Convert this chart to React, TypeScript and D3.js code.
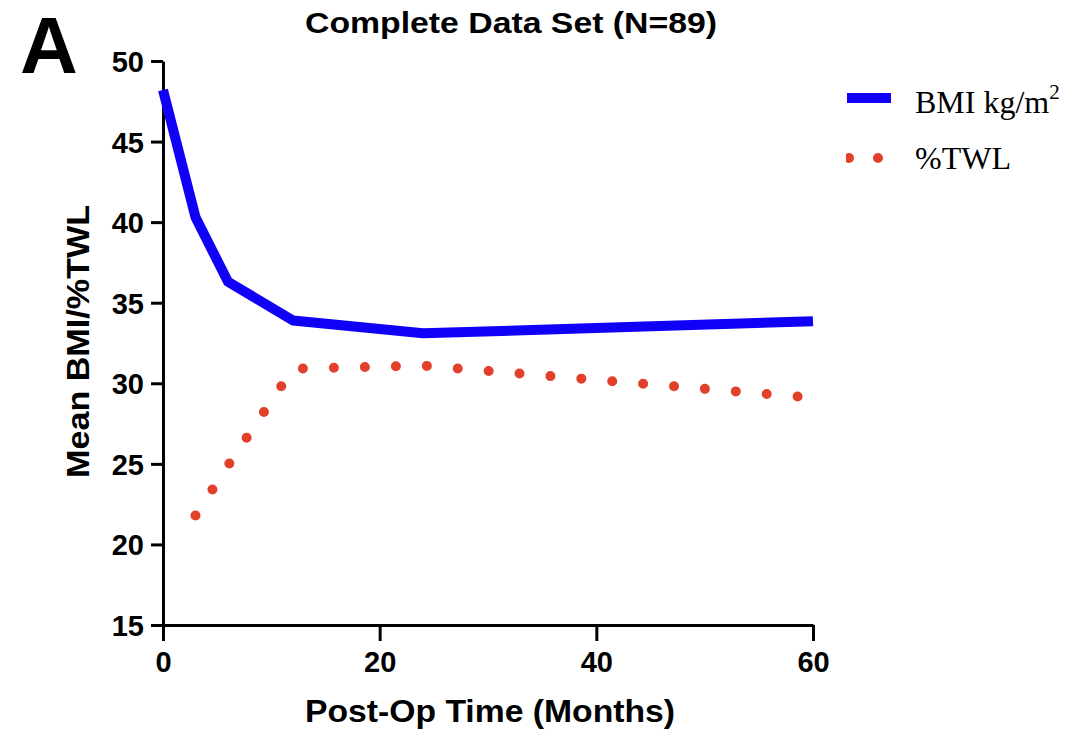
import React, { useEffect, useRef } from 'react';
import * as d3 from 'd3';

// values
const bmiMonths = [0, 3, 6, 12, 24, 60];
const bmiValues = [48.2, 40.3, 36.3, 33.9, 33.1, 33.85];
const twlMonths = [3, 6, 12, 24, 60];
const twlValues = [21.8, 24.9, 30.9, 31.1, 29.1];
const xTicks = [0, 20, 40, 60];
const yTicks = [15, 20, 25, 30, 35, 40, 45, 50];
const seriesLabels = ['BMI kg/m', '%TWL'];

const BLUE = '#1000f8';
const RED = '#e2402a';
const SANS = '"Liberation Sans", Arial, sans-serif';
const SERIF = '"Liberation Serif", "Times New Roman", serif';

const App = () => {
  const chartRef = useRef<SVGSVGElement>(null);

  useEffect(() => {
    const svg = d3.select(chartRef.current);
    svg.selectAll('*').remove();

    const x = d3.scaleLinear().domain([0, 60]).range([163, 813]);
    const y = d3.scaleLinear().domain([15, 50]).range([625, 61]);

    // Axes
    const yAxis = svg
      .append('g')
      .attr('transform', `translate(${x(0)},0)`)
      .call(d3.axisLeft(y).tickValues(yTicks).tickSize(12).tickSizeOuter(0).tickPadding(7));

    const xAxis = svg
      .append('g')
      .attr('transform', `translate(0,${y(15)})`)
      .call(d3.axisBottom(x).tickValues(xTicks).tickSize(16).tickSizeOuter(0).tickPadding(10));

    [yAxis, xAxis].forEach((g) => {
      g.attr('font-family', SANS).attr('font-size', 29).attr('font-weight', 'bold');
      g.selectAll('path, line').attr('stroke', '#000').attr('stroke-width', 3);
      g.selectAll('text').attr('fill', '#000');
    });
    yAxis.selectAll('text').attr('dy', '0.36em');

    // BMI line
    const bmiLine = d3
      .line<number>()
      .x((d, i) => x(bmiMonths[i]))
      .y((d) => y(d));

    svg
      .append('path')
      .datum(bmiValues)
      .attr('fill', 'none')
      .attr('stroke', BLUE)
      .attr('stroke-width', 10)
      .attr('stroke-linejoin', 'round')
      .attr('d', bmiLine);

    // %TWL dotted line
    const twlLine = d3
      .line<number>()
      .x((d, i) => x(twlMonths[i]))
      .y((d) => y(d));

    svg
      .append('path')
      .datum(twlValues)
      .attr('fill', 'none')
      .attr('stroke', RED)
      .attr('stroke-width', 10)
      .attr('stroke-linecap', 'round')
      .attr('stroke-dasharray', '0 31')
      .attr('d', twlLine);

    // Title and panel letter
    svg
      .append('text')
      .attr('x', 511)
      .attr('y', 33)
      .attr('text-anchor', 'middle')
      .attr('font-family', SANS)
      .attr('font-weight', 'bold')
      .attr('font-size', 29)
      .attr('textLength', 412)
      .attr('lengthAdjust', 'spacingAndGlyphs')
      .text('Complete Data Set (N=89)');

    svg
      .append('text')
      .attr('x', 20)
      .attr('y', 73)
      .attr('font-family', SANS)
      .attr('font-weight', 'bold')
      .attr('font-size', 80)
      .text('A');

    // Axis titles
    svg
      .append('text')
      .attr('x', 490)
      .attr('y', 722)
      .attr('text-anchor', 'middle')
      .attr('font-family', SANS)
      .attr('font-weight', 'bold')
      .attr('font-size', 31)
      .attr('textLength', 370)
      .attr('lengthAdjust', 'spacingAndGlyphs')
      .text('Post-Op Time (Months)');

    svg
      .append('text')
      .attr('transform', `translate(89,${(205 + 478) / 2}) rotate(-90)`)
      .attr('text-anchor', 'middle')
      .attr('font-family', SANS)
      .attr('font-weight', 'bold')
      .attr('font-size', 31)
      .attr('textLength', 273)
      .attr('lengthAdjust', 'spacingAndGlyphs')
      .text('Mean BMI/%TWL');

    // Legend
    const legend = svg.append('g');
    legend
      .append('line')
      .attr('x1', 847)
      .attr('x2', 891)
      .attr('y1', 98)
      .attr('y2', 98)
      .attr('stroke', BLUE)
      .attr('stroke-width', 10);

    legend
      .append('clipPath')
      .attr('id', 'legend-clip')
      .append('rect')
      .attr('x', 846)
      .attr('y', 140)
      .attr('width', 50)
      .attr('height', 40);

    legend
      .append('line')
      .attr('x1', 849)
      .attr('x2', 884)
      .attr('y1', 158)
      .attr('y2', 158)
      .attr('clip-path', 'url(#legend-clip)')
      .attr('stroke', RED)
      .attr('stroke-width', 10)
      .attr('stroke-linecap', 'round')
      .attr('stroke-dasharray', '0 29');

    const bmiLabel = legend
      .append('text')
      .attr('x', 915)
      .attr('y', 113)
      .attr('font-family', SERIF)
      .attr('font-size', 32)
      .text(seriesLabels[0]);
    bmiLabel
      .append('tspan')
      .attr('dy', -14)
      .attr('font-size', 21)
      .text('2');

    legend
      .append('text')
      .attr('x', 915)
      .attr('y', 169)
      .attr('font-family', SERIF)
      .attr('font-size', 32)
      .text(seriesLabels[1]);
  }, []);

  return (
    <>
      <style>{'body{margin:0;background:#fff}'}</style>
      <svg ref={chartRef} width={1071} height={736} style={{ display: 'block' }} />
    </>
  );
};

export default App;
